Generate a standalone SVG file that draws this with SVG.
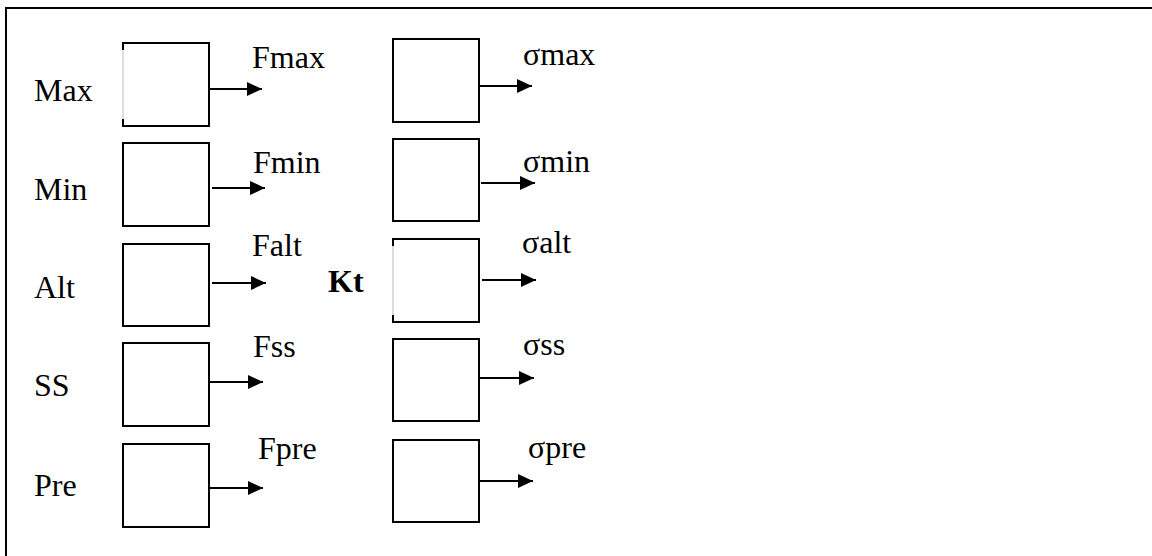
<svg xmlns="http://www.w3.org/2000/svg" width="1152" height="556" viewBox="0 0 1152 556">
<style>
  text { font-family: "Liberation Serif", "Times New Roman", serif; font-size: 32px; fill: #000; }
  .bold { font-weight: bold; }
  .box { fill: #fff; stroke: #000; stroke-width: 2; }
  .open { fill: none; stroke: #000; stroke-width: 2; }
  .thin { stroke: #bbb; stroke-width: 1; }
  .conn { stroke: #000; stroke-width: 2; fill: none; marker-end: url(#arrow); }
  .frame { fill: none; stroke: #000; stroke-width: 2; }
</style>
<defs>
  <marker id="arrow" markerUnits="userSpaceOnUse" markerWidth="16" markerHeight="16" viewBox="0 0 16 16" refX="15" refY="8" orient="auto">
    <path d="M0,1 L15,8 L0,15 Z" fill="#000"/>
  </marker>
</defs>
<rect width="1152" height="556" fill="#fff"/>
<path class="frame" d="M6,556 V8 H1152"/>

<g id="labels-left">
  <text x="34" y="101">Max</text>
  <text x="34" y="200">Min</text>
  <text x="34" y="298">Alt</text>
  <text x="34" y="396">SS</text>
  <text x="34" y="496">Pre</text>
</g>

<g id="box-fmax">
  <rect x="123" y="43" width="86" height="83" fill="#fff"/>
  <path class="open" d="M123,50 V43 H209 V126 H123 V119"/>
  <line class="thin" x1="123" y1="50" x2="123" y2="119"/>
  <text x="252" y="68">Fmax</text>
</g>
<g id="box-fmin">
  <rect class="box" x="123" y="143" width="86" height="83"/>
  <text x="253" y="173">Fmin</text>
</g>
<g id="box-falt">
  <rect class="box" x="123" y="244" width="86" height="82"/>
  <text x="252" y="256">Falt</text>
</g>
<g id="box-fss">
  <rect class="box" x="123" y="343" width="86" height="83"/>
  <text x="253" y="357">Fss</text>
</g>
<g id="box-fpre">
  <rect class="box" x="123" y="444" width="86" height="83"/>
  <text x="258" y="459">Fpre</text>
</g>

<g id="kt">
  <text class="bold" x="328" y="292">Kt</text>
</g>

<g id="box-smax">
  <rect class="box" x="393" y="39" width="86" height="83"/>
  <text x="523" y="65">σmax</text>
</g>
<g id="box-smin">
  <rect class="box" x="393" y="139" width="86" height="82"/>
  <text x="523" y="172">σmin</text>
</g>
<g id="box-salt">
  <rect x="393" y="239" width="86" height="83" fill="#fff"/>
  <path class="open" d="M393,246 V239 H479 V322 H393 V315"/>
  <line class="thin" x1="393" y1="246" x2="393" y2="315"/>
  <text x="522" y="253">σalt</text>
</g>
<g id="box-sss">
  <rect class="box" x="393" y="339" width="86" height="82"/>
  <text x="523" y="355">σss</text>
</g>
<g id="box-spre">
  <rect class="box" x="393" y="440" width="86" height="82"/>
  <text x="528" y="458">σpre</text>
</g>

<g id="connectors">
  <line class="conn" x1="209" y1="89" x2="262" y2="89"/>
  <line class="conn" x1="212" y1="188" x2="265" y2="188"/>
  <line class="conn" x1="212" y1="283" x2="266" y2="283"/>
  <line class="conn" x1="209" y1="382" x2="263" y2="382"/>
  <line class="conn" x1="209" y1="488" x2="263" y2="488"/>
  <line class="conn" x1="479" y1="86" x2="532" y2="86"/>
  <line class="conn" x1="481" y1="183" x2="535" y2="183"/>
  <line class="conn" x1="482" y1="280" x2="536" y2="280"/>
  <line class="conn" x1="480" y1="378" x2="534" y2="378"/>
  <line class="conn" x1="479" y1="481" x2="533" y2="481"/>
</g>
</svg>
